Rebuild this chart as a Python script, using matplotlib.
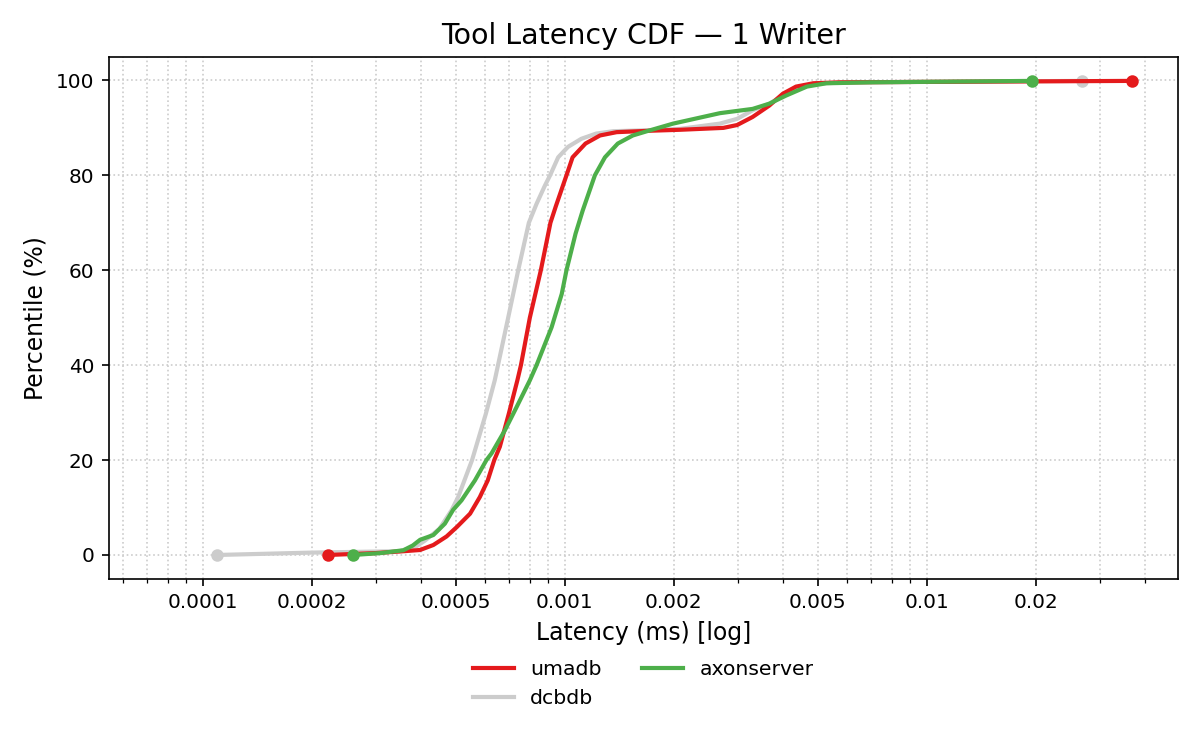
import matplotlib
matplotlib.use("Agg")
import matplotlib.pyplot as plt
from matplotlib.ticker import FixedLocator, FixedFormatter, LogLocator, NullFormatter

# latency (ms) vs percentile
umadb_lat = [0.000222, 0.0003, 0.00036, 0.000398, 0.000433, 0.000471, 0.000503, 0.000547,
             0.000582, 0.000612, 0.000638, 0.000661, 0.0007, 0.000739, 0.000756, 0.0008,
             0.000858, 0.000912, 0.000944, 0.00101, 0.00105, 0.00114, 0.00125, 0.00139,
             0.00172, 0.00208, 0.00274, 0.00299, 0.0033, 0.00367, 0.004, 0.00435,
             0.00485, 0.00575, 0.0368]
umadb_pct = [0, 0.4, 0.8, 1.05, 2.1, 3.9, 5.9, 8.7,
             12.2, 15.7, 20, 22.8, 29.8, 36.8, 40, 50,
             60, 70, 73.5, 80, 83.8, 86.7, 88.4, 89.1,
             89.4, 89.6, 90.0, 90.6, 92.3, 94.7, 97.2, 98.7,
             99.4, 99.6, 99.9]

dcbdb_lat = [0.0001096, 0.0002, 0.00035, 0.00039, 0.00041, 0.00045, 0.000486, 0.000507,
             0.000554, 0.000605, 0.00064, 0.000697, 0.000743, 0.000795, 0.000835, 0.00088,
             0.00091, 0.000958, 0.00102, 0.00111, 0.00122, 0.00136, 0.00168, 0.00208,
             0.00268, 0.00299, 0.0033, 0.00367, 0.00408, 0.00485, 0.006, 0.0268]
dcbdb_pct = [0, 0.5, 0.8, 1.9, 3.0, 5.5, 9.4, 12.2,
             20, 29.8, 36.8, 50, 60, 70, 74, 77.8,
             80, 83.8, 86, 87.7, 88.8, 89.3, 89.5, 89.8,
             90.9, 91.9, 93.7, 95.1, 97.2, 99.3, 99.6, 99.9]

axon_lat = [0.00026, 0.00031, 0.000358, 0.00038, 0.000398, 0.000433, 0.000466, 0.000491,
            0.000518, 0.000564, 0.000607, 0.000627, 0.000683, 0.000728, 0.0008, 0.000835,
            0.000919, 0.00098, 0.00101, 0.00107, 0.00112, 0.00121, 0.00129, 0.0014,
            0.00154, 0.00172, 0.00199, 0.00268, 0.0033, 0.00367, 0.00408, 0.00466,
            0.00528, 0.007, 0.0195]
axon_pct = [0, 0.4, 1.0, 2.0, 3.2, 4.2, 6.6, 9.5,
            11.5, 15.7, 20, 21.4, 26.3, 30.5, 36.8, 40,
            48, 55, 60, 67.7, 72.6, 80, 83.8, 86.7,
            88.4, 89.5, 90.9, 93.1, 94.0, 95.1, 96.8, 98.7,
            99.4, 99.6, 99.9]

major_ticks = [0.0001, 0.0002, 0.0005, 0.001, 0.002, 0.005, 0.01, 0.02]
major_labels = ["0.0001", "0.0002", "0.0005", "0.001", "0.002", "0.005", "0.01", "0.02"]

series = [
    ("umadb", umadb_lat, umadb_pct, "#e41a1c", 3),
    ("dcbdb", dcbdb_lat, dcbdb_pct, "#cccccc", 2),
    ("axonserver", axon_lat, axon_pct, "#4daf4a", 4),
]

fig, ax = plt.subplots(figsize=(8, 5), dpi=150)
fig.subplots_adjust(left=0.0908, right=0.9814, top=0.9244, bottom=0.2284)

for name, lat, pct, col, z in series:
    ax.plot(lat, pct, color=col, lw=2, label=name, zorder=z)
    # mark first and last sample
    ax.plot([lat[0], lat[-1]], [pct[0], pct[-1]], "o", color=col, ms=5, zorder=z)

ax.set_xscale("log")
ax.set_xlim(5.5e-5, 0.0493)
ax.set_ylim(-5, 105)
ax.xaxis.set_major_locator(FixedLocator(major_ticks))
ax.xaxis.set_major_formatter(FixedFormatter(major_labels))
ax.xaxis.set_minor_locator(LogLocator(base=10, subs=range(1, 10)))
ax.xaxis.set_minor_formatter(NullFormatter())
ax.tick_params(labelsize=9.6)

ax.grid(True, which="both", linestyle=":", color="#cccccc", linewidth=0.8)
ax.set_axisbelow(True)

ax.set_title("Tool Latency CDF \u2014 1 Writer", fontsize=13.7)
ax.set_xlabel("Latency (ms) [log]", fontsize=11.3)
ax.set_ylabel("Percentile (%)", fontsize=11.3)

ax.legend(loc="upper center", bbox_to_anchor=(0.5, -0.121), ncol=2,
          frameon=False, fontsize=9.8)

fig.savefig("out.png", dpi=150)
